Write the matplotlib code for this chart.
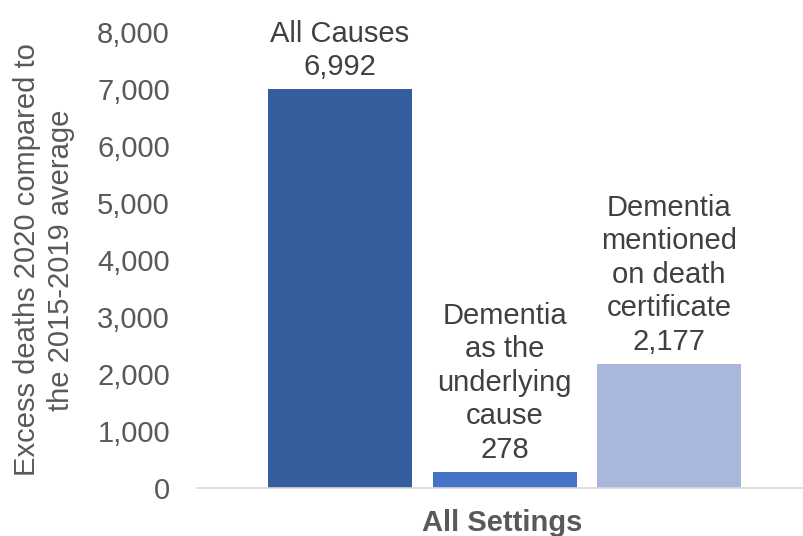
import matplotlib.pyplot as plt

plt.rcParams['font.family'] = ['Liberation Sans', 'DejaVu Sans']

categories = ['All Causes', 'Dementia\nas the\nunderlying\ncause',
              'Dementia\nmentioned\non death\ncertificate']
values = [6992, 278, 2177]
colors = ['#355E9F', '#4472C4', '#A9B7DC']
y_ticks = [0, 1000, 2000, 3000, 4000, 5000, 6000, 7000, 8000]

fig = plt.figure(figsize=(8.04, 5.36), dpi=100)
ax = fig.add_axes([0.245, 0.0896, 0.755, 0.8507])

x = range(len(values))
bars = ax.bar(x, values, width=0.875, color=colors)

for xi, v, name in zip(x, values, categories):
    ax.annotate(f'{name}\n{v:,}', (xi, v), xytext=(0, 6), textcoords='offset points',
                ha='center', va='bottom', fontsize=21, color='#404040', linespacing=1.25)

ax.set_xlim(-0.869, 2.82)
ax.set_ylim(0, 8000)
ax.set_yticks(y_ticks)
ax.set_yticklabels([f'{t:,}' for t in y_ticks])
ax.set_xticks([])
ax.tick_params(axis='y', length=0, labelsize=21, labelcolor='#595959', pad=19.5)
for s in ['top', 'right', 'left']:
    ax.spines[s].set_visible(False)
ax.spines['bottom'].set_color('#D9D9D9')
ax.spines['bottom'].set_linewidth(1.2)

ax.set_xlabel('All Settings', fontsize=21, fontweight='bold', color='#595959')
ax.xaxis.set_label_coords(0.502, -0.046)
ax.set_ylabel('Excess deaths 2020 compared to\nthe 2015-2019 average', fontsize=21,
              color='#595959', linespacing=1.25)
ax.yaxis.set_label_coords(-0.201, 0.5)

fig.savefig('out.png', dpi=100)
